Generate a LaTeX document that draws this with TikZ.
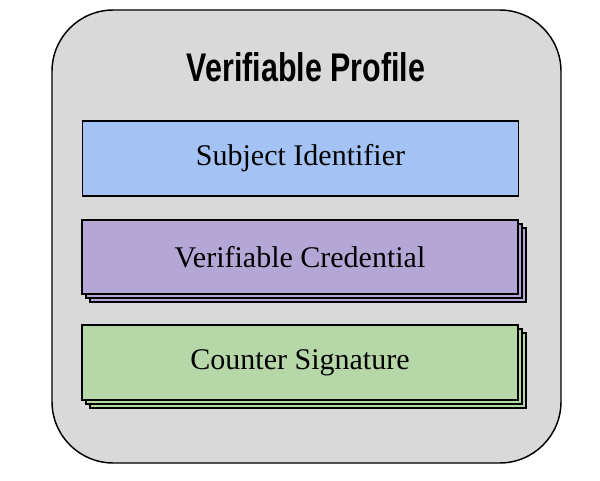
\documentclass[tikz,border=0pt]{standalone}
\usepackage{fontspec}
\setmainfont{Liberation Serif}
\newfontfamily\titlefont[FakeStretch=0.76]{Liberation Sans}
\usetikzlibrary{shadows}

\definecolor{profilegray}{HTML}{D9D9D9}
\definecolor{subjectblue}{HTML}{A4C2F4}
\definecolor{credpurple}{HTML}{B4A7D6}
\definecolor{sigreen}{HTML}{B6D7A8}

\tikzset{
  layer/.style={draw,line width=1.3pt,minimum width=327pt,minimum height=56pt,
    inner sep=0pt,font=\fontsize{22.5}{26}\selectfont},
  stacked/.style={layer,double copy shadow={shadow xshift=3pt,shadow yshift=-3pt}}
}

\begin{document}
\begin{tikzpicture}[x=0.75pt,y=-0.75pt]
        \useasboundingbox (0,0) rectangle (600,481);
        % outer profile
        \draw[fill=profilegray,line width=1.1pt,rounded corners=46pt] (52,10) rectangle (561,463);
        \node[anchor=base,font=\titlefont\bfseries\fontsize{30}{33}\selectfont] (title) at (306,82) {Verifiable Profile};
        % the three layers
        \node[layer,fill=subjectblue] (subject) at (300.5,158.5) {Subject Identifier};
        \node[stacked,fill=credpurple] (credential) at (300,257) {Verifiable Credential};
        \node[stacked,fill=sigreen] (signature) at (300,362.5) {Counter Signature};
    \end{tikzpicture}
\end{document}
